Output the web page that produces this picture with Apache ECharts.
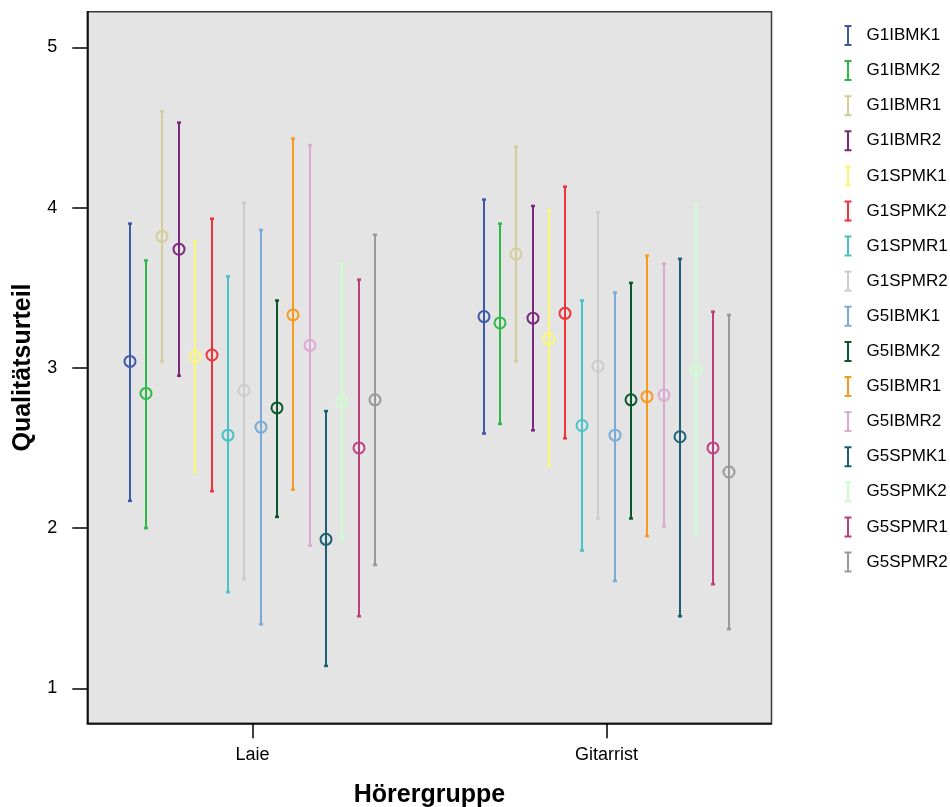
<!DOCTYPE html>
<html>
<head>
<meta charset="utf-8">
<script src="https://cdn.jsdelivr.net/npm/echarts@6/dist/echarts.min.js"></script>
<style>
  html, body { margin: 0; padding: 0; background: #ffffff; }
  #chart { width: 950px; height: 807px; }
</style>
</head>
<body>
<div id="chart"></div>
<script>
// ---- data ----
const categories = ['Laie', 'Gitarrist'];
const seriesNames = ['G1IBMK1', 'G1IBMK2', 'G1IBMR1', 'G1IBMR2', 'G1SPMK1', 'G1SPMK2', 'G1SPMR1', 'G1SPMR2',
                     'G5IBMK1', 'G5IBMK2', 'G5IBMR1', 'G5IBMR2', 'G5SPMK1', 'G5SPMK2', 'G5SPMR1', 'G5SPMR2'];
const colors = ['#3E58AC', '#2EB848', '#D3CE97', '#7C287D', '#FBF873', '#EF3338', '#48C2C5', '#CCCCCC',
                '#7AAAD5', '#0A562C', '#F8981D', '#DDA9D3', '#1A5F76', '#CCFFCC', '#BB3F7F', '#999999'];
// Laie
const meanLaie = [3.04, 2.84, 3.82, 3.74, 3.07, 3.08, 2.58, 2.86, 2.63, 2.75, 3.33, 3.14, 1.93, 2.79, 2.50, 2.80];
const lowLaie  = [2.17, 2.00, 3.04, 2.95, 2.35, 2.23, 1.60, 1.68, 1.40, 2.07, 2.24, 1.89, 1.14, 1.93, 1.45, 1.77];
const highLaie = [3.90, 3.67, 4.60, 4.53, 3.79, 3.93, 3.57, 4.03, 3.86, 3.42, 4.43, 4.39, 2.73, 3.65, 3.55, 3.83];
// Gitarrist
const meanGit  = [3.32, 3.28, 3.71, 3.31, 3.18, 3.34, 2.64, 3.01, 2.58, 2.80, 2.82, 2.83, 2.57, 2.99, 2.50, 2.35];
const lowGit   = [2.59, 2.65, 3.04, 2.61, 2.39, 2.56, 1.86, 2.06, 1.67, 2.06, 1.95, 2.01, 1.45, 1.96, 1.65, 1.37];
const highGit  = [4.05, 3.90, 4.38, 4.01, 3.98, 4.13, 3.42, 3.97, 3.47, 3.53, 3.70, 3.65, 3.68, 4.02, 3.35, 3.33];
const yTicks = [1, 2, 3, 4, 5];

// ---- layout ----
const FONT = "'Liberation Sans', Arial, sans-serif";
const dodge = 0.0462; // spacing between series within a category (x data units)
const nS = seriesNames.length;

const chart = echarts.init(document.getElementById('chart'), null, { renderer: 'canvas' });

const series = seriesNames.map((name, i) => {
  const color = colors[i];
  const offset = (i - (nS - 1) / 2) * dodge;
  return {
    name: name,
    type: 'custom',
    itemStyle: { color: color },
    data: [
      [1, lowLaie[i], meanLaie[i], highLaie[i]],
      [2, lowGit[i], meanGit[i], highGit[i]]
    ],
    renderItem: function (params, api) {
      const x = api.value(0) + offset;
      const pLow = api.coord([x, api.value(1)]);
      const pMid = api.coord([x, api.value(2)]);
      const pHigh = api.coord([x, api.value(3)]);
      const px = Math.round(pLow[0]);
      return {
        type: 'group',
        children: [
          { type: 'line', shape: { x1: px, y1: pHigh[1], x2: px, y2: pLow[1] },
            style: { stroke: color, lineWidth: 2 } },
          { type: 'line', shape: { x1: px - 2, y1: pHigh[1], x2: px + 2, y2: pHigh[1] },
            style: { stroke: color, lineWidth: 2.5 } },
          { type: 'line', shape: { x1: px - 2, y1: pLow[1], x2: px + 2, y2: pLow[1] },
            style: { stroke: color, lineWidth: 2.5 } },
          { type: 'circle', shape: { cx: px, cy: pMid[1], r: 5.5 },
            style: { fill: 'none', stroke: color, lineWidth: 2 } }
        ]
      };
    }
  };
});

const iconPath = 'path://M0,0L7,0L7,2L4.5,2L4.5,19L7,19L7,21L0,21L0,19L2.5,19L2.5,2L0,2Z';

const option = {
  backgroundColor: '#ffffff',
  animation: false,
  grid: {
    left: 87.3, right: 178.5, top: 11.7, bottom: 83.7,
    show: true, backgroundColor: '#e4e4e4', borderColor: '#3a3a3a', borderWidth: 1.5,
    outerBoundsMode: 'none'
  },
  legend: {
    orient: 'vertical',
    left: 844.5, top: 25,
    padding: 0,
    itemWidth: 7, itemHeight: 21, itemGap: 14.1,
    selectedMode: false,
    textStyle: { fontFamily: FONT, fontSize: 17, color: '#000', padding: [0, 0, 0, 10] },
    data: seriesNames.map((n, i) => ({ name: n, icon: iconPath, itemStyle: { color: colors[i] } }))
  },
  xAxis: {
    type: 'value',
    min: 0.5335, max: 2.4665,
    name: 'Hörergruppe',
    nameLocation: 'middle',
    nameGap: 59,
    nameTextStyle: { fontFamily: FONT, fontSize: 25, fontWeight: 'bold', color: '#000' },
    axisLine: { show: true, lineStyle: { color: '#000', width: 1.5 } },
    axisTick: { show: true, length: 15, customValues: [1, 2], lineStyle: { color: '#000', width: 1.5 } },
    axisLabel: {
      show: true, margin: 23, customValues: [1, 2],
      fontFamily: FONT, fontSize: 18, color: '#000',
      formatter: v => categories[Math.round(v) - 1] || ''
    },
    splitLine: { show: false }
  },
  yAxis: {
    type: 'value',
    min: 0.782, max: 5.222,
    name: 'Qualitätsurteil',
    nameLocation: 'middle',
    nameGap: 52,
    nameTextStyle: { fontFamily: FONT, fontSize: 25, fontWeight: 'bold', color: '#000' },
    axisLine: { show: true, lineStyle: { color: '#000', width: 1.5 } },
    axisTick: { show: true, length: 15, customValues: yTicks, lineStyle: { color: '#000', width: 1.5 } },
    axisLabel: {
      show: true, margin: 30, customValues: yTicks,
      fontFamily: FONT, fontSize: 18, color: '#000',
      formatter: v => String(Math.round(v))
    },
    splitLine: { show: false }
  },
  series: series
};

chart.setOption(option);
</script>
</body>
</html>
